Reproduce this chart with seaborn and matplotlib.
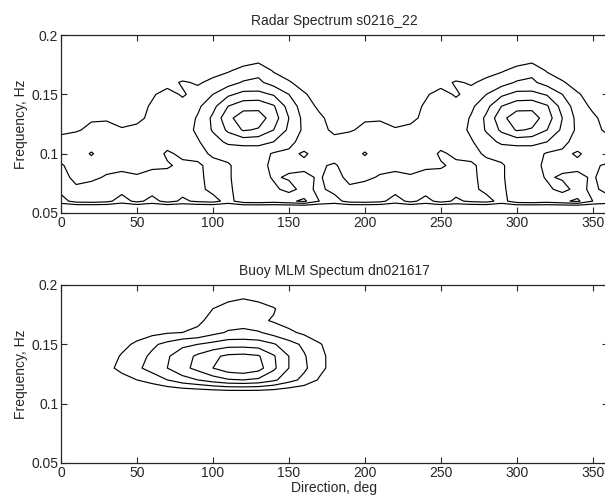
import numpy as np
import matplotlib
matplotlib.use("Agg")
import matplotlib.pyplot as plt
import seaborn as sns

# ---- radar spectrum, one 180 deg period (it repeats because of the ambiguity)
radar_dirs = [0, 10, 20, 30, 40, 50, 60, 70, 80, 90, 100, 110, 120, 130, 140, 150, 160, 170]
radar_freqs = [0.055, 0.06, 0.07, 0.08, 0.09, 0.10, 0.11, 0.12, 0.13, 0.14, 0.15, 0.16, 0.17, 0.18, 0.19, 0.20]
radar_rows = [
    [0, 0, 0, 0, 0, 0, 0, 0, 0, 0, 0, 0, 0, 0, 0, 0, 0, 0],
    [1.6, 2.4, 2.5, 2.3, 1.5, 2.3, 1.6, 2.4, 1.8, 2.2, 2.4, 1.6, 2.6, 2.7, 2.5, 2.8, 3.2, 2.0],
    [2.3, 2.2, 2.4, 2.3, 2.4, 2.2, 2.5, 2.3, 2.4, 2.3, 1.7, 1.8, 2.5, 2.3, 2.2, 1.7, 2.3, 1.8],
    [2.4, 1.7, 1.8, 2.1, 2.2, 2.1, 2.2, 2.3, 2.4, 2.2, 1.7, 1.9, 2.4, 2.4, 1.9, 2.1, 2.2, 1.9],
    [2.1, 1.6, 1.5, 1.7, 1.8, 1.7, 1.9, 1.9, 2.2, 2.1, 1.8, 1.9, 2.4, 2.3, 1.8, 1.8, 1.8, 1.9],
    [1.6, 1.4, 2.1, 1.4, 1.3, 1.4, 1.5, 2.15, 1.8, 1.8, 2.1, 2.3, 2.2, 2.4, 1.9, 1.8, 2.1, 1.7],
    [1.3, 1.5, 1.4, 1.5, 1.3, 1.4, 1.5, 1.6, 1.7, 1.9, 2.6, 3.2, 3.4, 3.3, 3.0, 2.3, 1.6, 1.5],
    [0.8, 0.9, 1.2, 1.3, 1.1, 1.2, 1.3, 1.4, 1.5, 2.2, 3.1, 4.2, 5.1, 4.9, 4.0, 2.8, 1.8, 1.3],
    [0.6, 0.6, 0.9, 0.9, 0.6, 0.8, 1.2, 1.2, 1.4, 2.1, 3.2, 4.7, 5.6, 5.5, 4.5, 3.0, 1.7, 1.2],
    [0.4, 0.4, 0.5, 0.6, 0.5, 0.7, 1.1, 1.2, 1.3, 1.8, 2.7, 4.0, 4.6, 4.7, 4.1, 2.6, 1.5, 0.8],
    [0.3, 0.4, 0.5, 0.5, 0.4, 0.6, 0.9, 1.3, 0.9, 1.3, 2.0, 2.8, 3.3, 3.3, 2.9, 2.0, 1.1, 0.6],
    [0.1, 0.1, 0.2, 0.2, 0.2, 0.3, 0.5, 0.7, 1.1, 0.9, 1.2, 1.6, 2.1, 2.2, 1.6, 1.1, 0.6, 0.3],
    [0, 0, 0, 0, 0, 0, 0, 0.1, 0.3, 0.5, 0.7, 0.9, 1.3, 1.7, 0.9, 0.5, 0.2, 0],
    [0, 0, 0, 0, 0, 0, 0, 0, 0, 0, 0.2, 0.3, 0.5, 0.6, 0.3, 0, 0, 0],
    [0, 0, 0, 0, 0, 0, 0, 0, 0, 0, 0, 0, 0, 0, 0, 0, 0, 0],
    [0, 0, 0, 0, 0, 0, 0, 0, 0, 0, 0, 0, 0, 0, 0, 0, 0, 0],
]

# ---- buoy MLM spectrum
buoy_dirs = [20, 30, 40, 50, 60, 70, 80, 90, 100, 110, 120, 130, 140, 150, 160, 170, 180, 190]
buoy_freqs = [0.10, 0.11, 0.12, 0.13, 0.14, 0.15, 0.16, 0.17, 0.18, 0.19, 0.20]
buoy_rows = [
    [0, 0, 0, 0, 0, 0, 0, 0, 0, 0, 0, 0, 0, 0, 0, 0, 0, 0],
    [0, 0, 0, 0, 0.1, 0.2, 0.3, 0.4, 0.5, 0.6, 0.6, 0.6, 0.5, 0.3, 0.2, 0, 0, 0],
    [0, 0.2, 0.6, 1.0, 1.4, 2.0, 2.6, 3.0, 3.5, 3.9, 4.0, 3.8, 3.2, 2.4, 1.7, 0.9, 0.3, 0],
    [0, 0.7, 1.3, 1.8, 2.4, 3.0, 3.7, 4.3, 5.0, 5.6, 5.8, 5.4, 4.2, 3.0, 2.2, 1.3, 0.6, 0],
    [0, 0.5, 1.1, 1.6, 2.2, 2.9, 3.5, 4.2, 4.8, 5.2, 5.3, 5.1, 4.1, 3.0, 2.1, 1.3, 0.6, 0],
    [0, 0.3, 0.7, 1.2, 1.8, 2.3, 2.8, 3.0, 3.3, 3.6, 3.6, 3.5, 3.1, 2.4, 1.8, 1.1, 0.5, 0],
    [0, 0, 0.2, 0.5, 0.7, 0.9, 1.0, 1.2, 1.7, 2.1, 2.2, 2.1, 1.6, 1.2, 0.8, 0.4, 0.1, 0],
    [0, 0, 0, 0, 0, 0, 0.4, 0.8, 1.3, 1.5, 1.6, 1.2, 0.9, 0.6, 0.3, 0, 0, 0],
    [0, 0, 0, 0, 0, 0, 0, 0.3, 1.0, 1.4, 1.5, 1.4, 1.1, 0.3, 0, 0, 0, 0],
    [0, 0, 0, 0, 0, 0, 0, 0, 0.2, 0.7, 0.9, 0.7, 0.2, 0, 0, 0, 0, 0],
    [0, 0, 0, 0, 0, 0, 0, 0, 0, 0, 0, 0, 0, 0, 0, 0, 0, 0],
]

levels = [1, 2, 3, 4, 5]
x_ticks = [0, 50, 100, 150, 200, 250, 300, 350]
y_ticks = [0.05, 0.1, 0.15, 0.2]
y_ticklabels = ["0.05", "0.1", "0.15", "0.2"]

sns.set_style("ticks", {"xtick.direction": "in", "ytick.direction": "in"})
plt.rcParams["font.family"] = ["Liberation Sans", "DejaVu Sans"]
plt.rcParams["font.size"] = 10


def style_axes(ax, title):
    ax.set_xlim(0, 360)
    ax.set_ylim(0.05, 0.2)
    ax.set_xticks(x_ticks)
    ax.set_yticks(y_ticks)
    ax.set_yticklabels(y_ticklabels)
    ax.tick_params(top=True, right=True, length=4, width=0.8, labelsize=10, pad=2)
    for s in ax.spines.values():
        s.set_linewidth(0.9)
    ax.set_title(title, fontsize=10, pad=7)
    ax.set_ylabel("Frequency, Hz", fontsize=10, labelpad=2)


fig = plt.figure(figsize=(6.05, 5.0), dpi=100)
ax1 = fig.add_axes([0.1008, 0.574, 0.904, 0.356])
ax2 = fig.add_axes([0.1008, 0.074, 0.904, 0.356])

# tile the 180 deg period over 0..360
full_dirs = np.array(radar_dirs + [d + 180 for d in radar_dirs] + [360])
radar = np.array(radar_rows)
radar_full = np.hstack([radar, radar, radar[:, :1]])
ax1.contour(full_dirs, radar_freqs, radar_full, levels=levels, colors="black", linewidths=0.85)
style_axes(ax1, "Radar Spectrum s0216_22")

ax2.contour(buoy_dirs, buoy_freqs, np.array(buoy_rows), levels=levels, colors="black", linewidths=0.85)
style_axes(ax2, "Buoy MLM Spectum dn021617")
ax2.set_xlabel("Direction, deg", fontsize=10, labelpad=1)

fig.savefig("out.png", dpi=100)
